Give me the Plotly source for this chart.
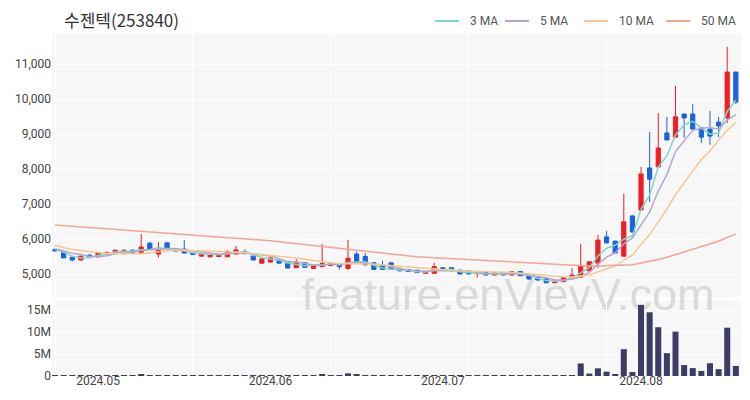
import numpy as np
import pandas as pd
import plotly.graph_objects as go

# ---------------- data ----------------
title_text = "수젠텍(253840)"
holidays = ["2024-05-01", "2024-05-06", "2024-05-15", "2024-08-15"]
dates = pd.bdate_range("2024-04-24", "2024-08-19", freq="C", holidays=holidays)

opens = [5700, 5630, 5480, 5400, 5540, 5490, 5570, 5590, 5580, 5680,
         5620, 5880, 5570, 5890, 5690, 5710, 5600, 5510, 5490, 5500,
         5490, 5570, 5640, 5510, 5310, 5340, 5400, 5340, 5180, 5320,
         5160, 5210, 5240, 5300, 5160, 5570, 5500, 5320, 5260, 5320,
         5160, 5130, 5110, 5020, 5020, 5180, 5180, 5110, 5090, 5010,
         5040, 4970, 5040, 4970, 5070, 4970, 4920, 4880, 4750, 4780,
         4890, 4910, 5090, 5310, 6060, 5940, 5510, 6660, 6830, 8030,
         8060, 9030, 8910, 9570, 9570, 9170, 9140, 9340, 9460, 10770]
highs = [5730, 5650, 5490, 5520, 5560, 5610, 5650, 5690, 5700, 5700,
         6140, 5920, 5910, 5910, 5700, 5970, 5610, 5580, 5560, 5560,
         5680, 5800, 5700, 5520, 5480, 5470, 5410, 5350, 5420, 5330,
         5270, 5860, 5330, 5310, 5970, 5640, 5600, 5330, 5380, 5330,
         5170, 5140, 5120, 5080, 5320, 5190, 5190, 5120, 5100, 5060,
         5050, 5040, 5050, 5080, 5080, 4980, 4930, 4890, 4810, 4910,
         5170, 5860, 5360, 6110, 6230, 5950, 7290, 6680, 8060, 9060,
         9600, 9490, 10370, 9580, 9860, 9180, 9660, 9490, 11490, 10780]
lows = [5640, 5450, 5360, 5390, 5480, 5480, 5560, 5580, 5570, 5610,
        5600, 5700, 5470, 5720, 5650, 5590, 5550, 5500, 5480, 5490,
        5480, 5560, 5570, 5390, 5300, 5330, 5300, 5160, 5170, 5180,
        5150, 5200, 5230, 5130, 5120, 5340, 5250, 5120, 5120, 5130,
        5080, 5060, 5030, 5010, 5010, 5100, 5080, 4990, 4990, 4900,
        4960, 4960, 4960, 4960, 4940, 4830, 4820, 4740, 4740, 4770,
        4880, 4900, 5080, 5170, 5860, 5590, 5500, 6190, 6820, 7060,
        8050, 8820, 8900, 8890, 9130, 8740, 8690, 8910, 9310, 9860]
closes = [5660, 5460, 5400, 5510, 5490, 5600, 5600, 5680, 5680, 5620,
          5770, 5720, 5740, 5740, 5660, 5600, 5560, 5570, 5550, 5540,
          5640, 5690, 5580, 5400, 5430, 5460, 5310, 5170, 5340, 5190,
          5260, 5300, 5320, 5210, 5450, 5350, 5260, 5130, 5130, 5140,
          5090, 5070, 5040, 5070, 5210, 5110, 5090, 5000, 5000, 5040,
          4970, 5030, 4970, 5070, 4950, 4860, 4830, 4750, 4800, 4900,
          4970, 5220, 5350, 5970, 5890, 5600, 6490, 6200, 7860, 7710,
          8600, 8830, 9490, 9460, 9140, 8910, 8940, 9230, 10770, 9910]
volumes = [0.05, 0.06, 0.05, 0.04, 0.04, 0.04, 0.03, 0.04, 0.04, 0.05,
           0.45, 0.15, 0.12, 0.08, 0.04, 0.10, 0.04, 0.03, 0.03, 0.03,
           0.04, 0.05, 0.04, 0.04, 0.04, 0.03, 0.04, 0.05, 0.04, 0.04,
           0.04, 0.45, 0.06, 0.06, 0.60, 0.30, 0.22, 0.18, 0.10, 0.06,
           0.04, 0.03, 0.03, 0.03, 0.08, 0.04, 0.03, 0.03, 0.03, 0.03,
           0.03, 0.03, 0.03, 0.03, 0.03, 0.06, 0.04, 0.04, 0.03, 0.05,
           0.10, 2.85, 0.55, 1.75, 1.00, 0.30, 6.10, 0.90, 16.2, 14.5,
           11.1, 5.20, 10.1, 2.50, 1.80, 1.15, 2.90, 1.55, 11.0, 2.30]  # millions of shares
# closes of the 49 sessions before the first visible day, estimated from the 50 MA / 10 MA lines
prior_closes = [6335, 6275, 6385, 6365, 6475, 6475, 6555, 6555, 6495, 6645,
                6595, 6615, 6615, 6535, 6475, 6435, 6445, 6425, 6415, 6515,
                6565, 6455, 6275, 6305, 6860, 6710, 6570, 6740, 6590, 6660,
                6700, 6720, 6610, 6850, 6750, 6660, 6530, 6530, 6500, 6400,
                6200, 5900, 5800, 5910, 5810, 5790, 5700, 5700, 5750]

ma_periods = [3, 5, 10, 50]
ma_names = ["3 MA", "5 MA", "10 MA", "50 MA"]
price_ticks = [5000, 6000, 7000, 8000, 9000, 10000, 11000]
volume_ticks = [0, 5e6, 10e6, 15e6]
volume_tick_text = ["0", "5M", "10M", "15M"]
watermark_text = "feature.enVievV.com"

# ---------------- styling ----------------
ma_colors = ["#80d5cb", "#b6a6cc", "#f4c990", "#f6a392"]
up_color = "#ee1f24"
down_color = "#1a63dc"
vol_color = "#3c3c64"
bg_color = "#f7f7f8"
title_font = "Noto Sans CJK KR, Noto Sans, sans-serif"
tick_font = "Roboto, Noto Sans, sans-serif"

# the page places the figure 8 px from the window's top-left corner
FIG_W, FIG_H = 742, 392
M_L, M_R, M_T, M_B = 44, 9, 26, 24
PLOT_W = FIG_W - M_L - M_R
PLOT_H = FIG_H - M_T - M_B


def px_x(screen_x):
    return (screen_x - 8 - M_L) / PLOT_W


def px_y(screen_y):
    return (FIG_H - M_B - (screen_y - 8)) / PLOT_H


n = len(closes)
x = np.arange(n)
month_idx = [i for i in range(n) if i == 0 or dates[i].month != dates[i - 1].month]
month_idx = [i for i in month_idx if dates[i].day <= 7]
month_text = [dates[i].strftime("%Y.%m") for i in month_idx]

full_close = pd.Series(prior_closes + closes, dtype=float)
ma_values = [full_close.rolling(p).mean().to_numpy()[-n:] for p in ma_periods]

fig = go.Figure()

fig.add_trace(go.Candlestick(
    x=x, open=opens, high=highs, low=lows, close=closes,
    increasing=dict(line=dict(color=up_color, width=1), fillcolor=up_color),
    decreasing=dict(line=dict(color=down_color, width=1), fillcolor=down_color),
    whiskerwidth=0, showlegend=False, xaxis="x", yaxis="y", hoverinfo="skip",
))

for name, vals, col in zip(ma_names, ma_values, ma_colors):
    fig.add_trace(go.Scatter(
        x=x, y=vals, mode="lines", name=name, showlegend=False,
        line=dict(color=col, width=1.5), xaxis="x", yaxis="y", hoverinfo="skip",
    ))

fig.add_trace(go.Bar(
    x=x, y=np.array(volumes) * 1e6, marker=dict(color=vol_color, line=dict(width=0)),
    width=0.7, showlegend=False, xaxis="x2", yaxis="y2", hoverinfo="skip",
))

xr = [-0.35, n - 0.4]
grid_minor = dict(tickmode="array", tickvals=list(range(0, n, 16)), showgrid=True,
                  gridcolor="#ffffff", gridwidth=1, ticklen=0)

price_dom = [px_y(297), 1]
vol_dom = [0, px_y(300)]

fig.update_layout(
    width=FIG_W, height=FIG_H,
    margin=dict(l=M_L, r=M_R, t=M_T, b=M_B, autoexpand=False),
    paper_bgcolor="#ffffff",
    plot_bgcolor="rgba(0,0,0,0)",
    font=dict(family=tick_font, size=12, color="#444"),
    showlegend=False,
    xaxis=dict(domain=[0, 1], range=xr, showticklabels=False, showgrid=False,
               zeroline=False, anchor="y", rangeslider=dict(visible=False),
               minor=grid_minor, ticks="", automargin=False),
    xaxis2=dict(domain=[0, 1], range=xr, matches="x", anchor="y2",
                tickmode="array", tickvals=month_idx, ticktext=month_text,
                showgrid=False, zeroline=False, ticks="", minor=grid_minor,
                automargin=False, ticklabelstandoff=-4,
                tickfont=dict(size=12, color="#444")),
    yaxis=dict(domain=price_dom, range=[4343, 11857], tickmode="array",
               tickvals=price_ticks, tickformat=",d", showgrid=True,
               gridcolor="#ffffff", gridwidth=1, zeroline=False, ticks="",
               automargin=False, tickfont=dict(size=12, color="#444")),
    yaxis2=dict(domain=vol_dom, range=[0, 17.3e6], tickmode="array",
                tickvals=volume_ticks, ticktext=volume_tick_text, showgrid=True,
                gridcolor="#ffffff", gridwidth=1, zeroline=False, ticks="",
                automargin=False, tickfont=dict(size=12, color="#444")),
)

# panel backgrounds + watermark (drawn beneath the traces)
fig.add_shape(type="rect", xref="paper", yref="paper", x0=0, x1=1, y0=price_dom[0], y1=1,
              line_width=0, fillcolor=bg_color, layer="below")
fig.add_shape(type="rect", xref="paper", yref="paper", x0=0, x1=1, y0=0, y1=vol_dom[1],
              line_width=0, fillcolor=bg_color, layer="below")
fig.add_shape(type="rect", xref="paper", yref="paper",
              x0=px_x(508) - 0.3, x1=px_x(508) + 0.3, y0=px_y(290) - 0.06, y1=px_y(290) + 0.06,
              line_width=0, fillcolor="rgba(0,0,0,0)", layer="below",
              label=dict(text=watermark_text, textposition="middle center",
                         font=dict(size=45, color="#dadada", family="Liberation Sans")))

# title
fig.add_annotation(text=title_text, xref="paper", yref="paper",
                   x=px_x(62), y=px_y(20), xanchor="left", yanchor="middle",
                   showarrow=False, font=dict(size=17, color="#333", family=title_font))

# legend (line sample + label for each moving average)
legend_line_x = [435, 505, 584, 666]
for name, col, lx in zip(ma_names, ma_colors, legend_line_x):
    fig.add_shape(type="line", xref="paper", yref="paper",
                  x0=px_x(lx), x1=px_x(lx + 24), y0=px_y(21), y1=px_y(21),
                  line=dict(color=col, width=2))
    fig.add_annotation(text=name, xref="paper", yref="paper",
                       x=px_x(lx + 33), y=px_y(21), xanchor="left", yanchor="middle",
                       showarrow=False, font=dict(size=12, color="#555", family=tick_font))

fig.write_html("out.html")
